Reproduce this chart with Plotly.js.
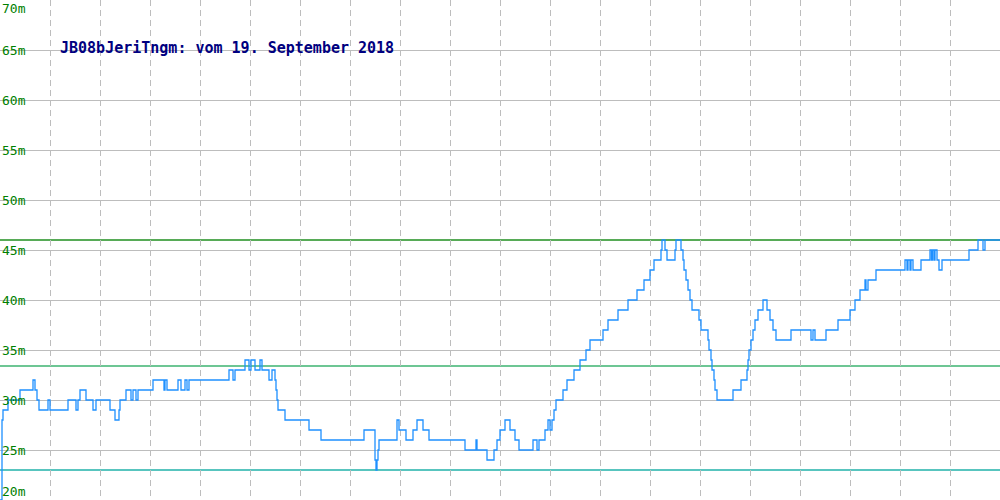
<!DOCTYPE html>
<html>
<head>
<meta charset="utf-8">
<script src="https://cdn.plot.ly/plotly-3.0.1.min.js"></script>
<style>
html,body{margin:0;padding:0;background:#fff;}
#chart{width:1000px;height:500px;}
</style>
</head>
<body>
<div id="chart"></div>
<script>
// Sample index (change points of the step trace) and water level in metres
const sampleIdx = [0,2,3,8,20,33,35,37,39,48,50,68,76,78,80,86,93,96,110,115,119,120,126,131,133,136,138,153,164,165,167,178,181,185,187,189,229,233,235,245,249,251,255,260,262,269,272,275,276,277,278,285,309,321,364,375,376,377,378,379,397,399,406,413,417,423,429,465,476,477,487,494,497,500,505,510,515,519,533,537,539,545,548,550,552,554,556,563,567,574,580,586,590,603,608,618,628,637,644,650,654,661,662,665,667,675,676,681,683,684,686,688,690,692,699,701,708,709,711,712,714,715,717,733,741,747,748,749,751,753,755,758,763,767,770,773,776,791,811,813,815,826,838,850,855,860,865,866,868,876,905,907,908,910,911,913,921,930,931.5,932.5,934,935,937,939,942,969,978,983,985,1000];
const levelM    = [20,28,29,30,31,32,31,30,29,30,29,30,29,30,31,30,29,30,29,28,29,30,31,30,31,30,31,32,31,32,31,32,31,32,31,32,33,32,33,34,33,34,33,34,33,32,33,32,31,30,29,28,27,26,27,24,23,24,25,26,28,27,26,27,28,27,26,25,26,25,24,25,26,27,28,27,26,25,26,25,26,27,28,27,28,29,30,31,32,33,34,35,36,37,38,39,40,41,42,43,44,45,46,45,44,45,46,45,44,43,42,41,40,39,38,37,36,35,34,33,32,31,30,31,32,33,34,35,36,37,38,39,40,39,38,37,36,37,36,37,36,37,38,39,40,41,42,41,42,43,44,43,44,43,44,43,44,45,44,45,44,45,44,43,44,45,46,45,46,46];

const yTicks = [20,25,30,35,40,45,50,55,60,65,70];
const refLevels = [46, 33.4, 23];
const refColors = ['#1f8f1f','#3cb371','#20b2aa'];
const titleText = 'JB08bJeriTngm: vom 19. September 2018';

const trace = {
  x: sampleIdx, y: levelM, type: 'scatter', mode: 'lines',
  line: {shape: 'hv', color: '#1e90ff', width: 1.3},
  hoverinfo: 'skip', showlegend: false
};

const shapes = refLevels.map((v, i) => ({
  type: 'line', xref: 'paper', x0: 0, x1: 1, yref: 'y', y0: v, y1: v,
  line: {color: refColors[i], width: 1.3}, layer: 'below'
}));

const annotations = yTicks.map(v => ({
  xref: 'paper', x: 0, xanchor: 'left', xshift: 1,
  yref: 'y', y: v,
  yanchor: v === 70 ? 'top' : (v === 20 ? 'bottom' : 'middle'),
  text: v + 'm', showarrow: false,
  font: {family: 'DejaVu Sans Mono', size: 13, color: '#008000'},
  borderpad: 0
}));

const layout = {
  width: 1000, height: 500,
  margin: {l: 0, r: 0, t: 0, b: 0},
  paper_bgcolor: '#ffffff', plot_bgcolor: '#ffffff',
  title: {
    text: titleText, xref: 'paper', x: 0.06, xanchor: 'left',
    yref: 'paper', y: 0.905, yanchor: 'middle',
    font: {family: 'DejaVu Sans Mono', size: 15, color: '#000080', weight: 'bold'}
  },
  xaxis: {
    range: [0, 1000], dtick: 50, tick0: 0, showticklabels: false, ticks: '',
    showgrid: true, gridcolor: '#bdbdbd', gridwidth: 1, griddash: '6px,4px',
    zeroline: false, showline: true, linecolor: '#bdbdbd', linewidth: 2, fixedrange: true
  },
  yaxis: {
    range: [20, 70], tickvals: yTicks, showticklabels: false, ticks: '',
    showgrid: true, gridcolor: '#bdbdbd', gridwidth: 1,
    zeroline: false, showline: true, linecolor: '#bdbdbd', linewidth: 2, fixedrange: true
  },
  shapes: shapes,
  annotations: annotations
};

Plotly.newPlot('chart', [trace], layout, {displayModeBar: false, staticPlot: true});
</script>
</body>
</html>
